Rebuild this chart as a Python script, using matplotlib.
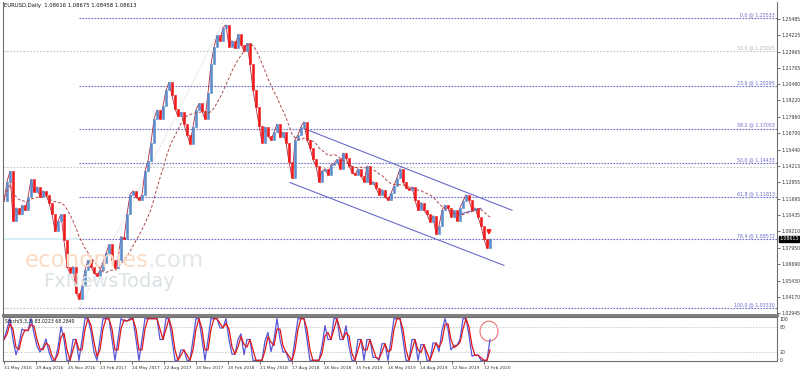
import numpy as np
import pandas as pd
import matplotlib
matplotlib.use('Agg')
import matplotlib.pyplot as plt
from matplotlib.patches import Ellipse

closes = [
    1.1150, 1.1300, 1.1380, 1.1000, 1.1100, 1.1050, 1.1120, 1.1080, 1.1180, 1.1320,
    1.1220, 1.1260, 1.1180, 1.1230, 1.1200, 1.1140, 1.1050, 1.0920, 1.1000, 1.1050,
    1.0850, 1.0650, 1.0600, 1.0650, 1.0450, 1.0400, 1.0500, 1.0620, 1.0700, 1.0650,
    1.0600, 1.0580, 1.0620, 1.0680, 1.0750, 1.0820, 1.0700, 1.0640, 1.0700, 1.0880,
    1.0860, 1.1050, 1.1200, 1.1230, 1.1180, 1.1160, 1.1200, 1.1380, 1.1460, 1.1600,
    1.1780, 1.1850, 1.1780, 1.1880, 1.2000, 1.2060, 1.1960, 1.1860, 1.1800, 1.1830,
    1.1740, 1.1660, 1.1590, 1.1720, 1.1850, 1.1900, 1.1840, 1.1780, 1.1980, 1.2200,
    1.2330, 1.2420, 1.2380, 1.2480, 1.2500, 1.2330, 1.2380, 1.2320, 1.2430, 1.2350,
    1.2300, 1.2360, 1.2200, 1.2000, 1.1870, 1.1730, 1.1600, 1.1720, 1.1650, 1.1620,
    1.1680, 1.1740, 1.1640, 1.1680, 1.1600, 1.1450, 1.1330, 1.1620, 1.1660, 1.1720,
    1.1760, 1.1620, 1.1560, 1.1470, 1.1420, 1.1300, 1.1380, 1.1400, 1.1350, 1.1430,
    1.1440, 1.1470, 1.1400, 1.1520, 1.1480, 1.1420, 1.1370, 1.1350, 1.1400, 1.1340,
    1.1300, 1.1420, 1.1280, 1.1300, 1.1250, 1.1200, 1.1240, 1.1180, 1.1160, 1.1210,
    1.1270, 1.1330, 1.1400, 1.1300, 1.1250, 1.1240, 1.1260, 1.1160, 1.1080, 1.1140,
    1.1080, 1.1050, 1.0990, 1.1040, 1.0900, 1.0960, 1.1080, 1.1120, 1.1100, 1.1030,
    1.1080, 1.1000, 1.1100, 1.1150, 1.1200, 1.1160, 1.1080, 1.1100, 1.1030, 1.0960,
    1.0860, 1.0790, 1.0861,
]
bar_step = 6

price_ticks = [1.25485, 1.24225, 1.22965, 1.21705, 1.20480, 1.19220, 1.17960, 1.16700,
               1.15440, 1.14215, 1.12955, 1.11695, 1.10435, 1.09210, 1.07950, 1.06690,
               1.05430, 1.04170, 1.02945]
date_ticks = [0, 64, 128, 192, 256, 320, 384, 448, 512, 576, 640, 704, 768, 832, 896, 960]
date_labels = ['31 May 2016', '29 Aug 2016', '25 Nov 2016', '23 Feb 2017', '24 May 2017',
               '22 Aug 2017', '20 Nov 2017', '20 Feb 2018', '21 May 2018', '17 Aug 2018',
               '16 Nov 2018', '15 Feb 2019', '16 May 2019', '14 Aug 2019', '12 Nov 2019',
               '12 Feb 2020']

# fibonacci retracement between the Jan 2017 low and the Feb 2018 high
fib_low_bar, fib_high_bar = 150, 442
fib_levels = [0.0, 23.6, 38.2, 50.0, 61.8, 76.4, 100.0]
fib_prices = [1.25533, 1.20295, 1.17053, 1.14433, 1.11813, 1.08572, 1.03330]
grey_levels = [1.23005, 1.14088]

# channel and trend lines: (bar, price) pairs
upper_channel = ([600, 1016], [1.1707, 1.1081])
lower_channel = ([572, 1000], [1.1293, 1.0659])
short_line = ([910, 954], [1.1050, 1.1096])
arrow_bar, arrow_top, arrow_tip = 970, 1.0948, 1.0868
last_price = 1.08613
circle_bar, circle_val = 970, 70

bull, bear = '#5b8ccc', '#f01818'
fib_col = '#6a6acd'

closes = np.array(closes)
bars = np.arange(len(closes)) * bar_step
opens = np.r_[closes[0], closes[:-1]]
lows = np.minimum(opens, closes)
heights = np.abs(closes - opens)
cols = [bull if c >= o else bear for o, c in zip(opens, closes)]

s = pd.Series(closes)
ma = s.rolling(14, min_periods=1).mean()
ll = s.rolling(3, min_periods=1).min()
hh = s.rolling(3, min_periods=1).max()
k_raw = (100 * (s - ll) / (hh - ll)).fillna(50)
k_line = k_raw.rolling(2, min_periods=1).mean()
d_line = k_line.rolling(2, min_periods=1).mean()

fig = plt.figure(figsize=(8, 3.72), dpi=100)
W, H = 800, 372
ax = fig.add_axes([3 / W, 1 - 315 / H, 774 / W, 313 / H])
ax2 = fig.add_axes([3 / W, 1 - 361 / H, 774 / W, 44 / H])
xmax = 1546

# watermark
fig.text(25 / W, 1 - 267 / H, 'economies', fontsize=16.5, color='#fadcc6', zorder=0)
fig.text(148 / W, 1 - 267 / H, '.com', fontsize=16.5, color='#e3e8ea', zorder=0)
fig.text(43 / W, 1 - 287 / H, 'FxNewsToday', fontsize=14, color='#dbe2e5', zorder=0)
ax.patch.set_alpha(0)

# grey helper lines
for p in grey_levels:
    ax.hlines(p, -2, xmax, colors='#c4c4c4', linestyles=(0, (1.5, 1.5)), lw=0.8)
ax.hlines(fib_prices[-1], -2, fib_low_bar, colors='#c4c4c4', linestyles=(0, (1.5, 1.5)), lw=0.8)
ax.hlines(fib_prices[5], -2, fib_low_bar, colors='#d6eff4', lw=1.4)
ax.plot([fib_low_bar, fib_high_bar], [fib_prices[-1], fib_prices[0]], color='#d8d8d8',
        ls=(0, (1.5, 1.5)), lw=0.7)
ax.text(xmax - 4, grey_levels[0] + 0.0008, '50.0 @ %.5f' % grey_levels[0], fontsize=3.4,
        color='#b8b8b8', ha='right', va='bottom')

for lvl, p in zip(fib_levels, fib_prices):
    ax.hlines(p, fib_low_bar, xmax, colors=fib_col, linestyles=(0, (1.5, 1.2)), lw=0.8)
    ax.text(xmax - 4, p + 0.0008, '%.1f @ %.5f' % (lvl, p), fontsize=3.4, color=fib_col,
            ha='right', va='bottom')

ax.plot(*upper_channel, color=fib_col, lw=0.8)
ax.plot(*lower_channel, color=fib_col, lw=0.8)
ax.plot(*short_line, color=fib_col, lw=0.8)

ax.plot(bars, closes, color='#b02840', lw=0.6, zorder=2)
ax.bar(bars, heights, bottom=lows, width=3, color=cols, edgecolor=cols, lw=0.4, zorder=3)
ax.plot(bars, ma, color='#b04848', lw=0.7, ls=(0, (3, 2)), zorder=4)

ax.annotate('', xy=(arrow_bar, arrow_tip), xytext=(arrow_bar, arrow_top),
            arrowprops=dict(arrowstyle='-|>', color='#ff2020', lw=1.6, mutation_scale=5))

ax.set_xlim(-2, xmax)
ax.set_ylim(1.0279, 1.2676)
ax.yaxis.tick_right()
ax.set_yticks(price_ticks)
ax.set_yticklabels(['%.5f' % t for t in price_ticks])
ax.tick_params(axis='y', labelsize=3.3, length=2, width=0.5, pad=1, colors='#333333')
ax.set_xticks([])
ax.spines['top'].set_visible(False)
for sp in ['left', 'right']:
    ax.spines[sp].set_color('#707070')
    ax.spines[sp].set_linewidth(0.8)
ax.spines['bottom'].set_color('#808080')
ax.spines['bottom'].set_linewidth(2.2)
ax.text(1.003, last_price, '%.5f' % last_price, transform=ax.get_yaxis_transform(),
        fontsize=3.3, color='white', va='center', ha='left',
        bbox=dict(boxstyle='square,pad=0.15', fc='black', ec='black'))

fig.text(4 / W, 1 - 6 / H, 'EURUSD,Daily  1.08616 1.08675 1.08458 1.08613', fontsize=3.8,
         color='#111111', va='center')

# stochastic panel
for lv in [80, 20]:
    ax2.axhline(lv, color='#c8c8c8', ls=(0, (1.5, 1.5)), lw=0.7)
ax2.plot(bars, k_line, color='#5555d8', lw=0.9)
ax2.plot(bars, d_line, color='#e01818', lw=0.9)
ax2.add_patch(Ellipse((circle_bar, circle_val), 36, 48, fill=False, ec='#ee7070', lw=0.8))
ax2.set_xlim(-2, xmax)
ax2.set_ylim(-1.6, 104)
ax2.yaxis.tick_right()
ax2.set_yticks([100, 80, 20, 0])
ax2.tick_params(axis='y', labelsize=3.3, length=0, pad=2, colors='#333333')
ax2.set_xticks(date_ticks)
ax2.set_xticklabels(date_labels, ha='left')
ax2.tick_params(axis='x', labelsize=3.1, length=2, width=0.5, pad=1.5, colors='#333333')
for sp in ['left', 'right', 'bottom', 'top']:
    ax2.spines[sp].set_color('#707070')
    ax2.spines[sp].set_linewidth(0.8)
ax2.text(0.002, 0.9, 'Stoch(5,3,3) 83.0223 68.2840', transform=ax2.transAxes, fontsize=3.3,
         color='#111111', va='center')

fig.savefig('out.png', dpi=100)
